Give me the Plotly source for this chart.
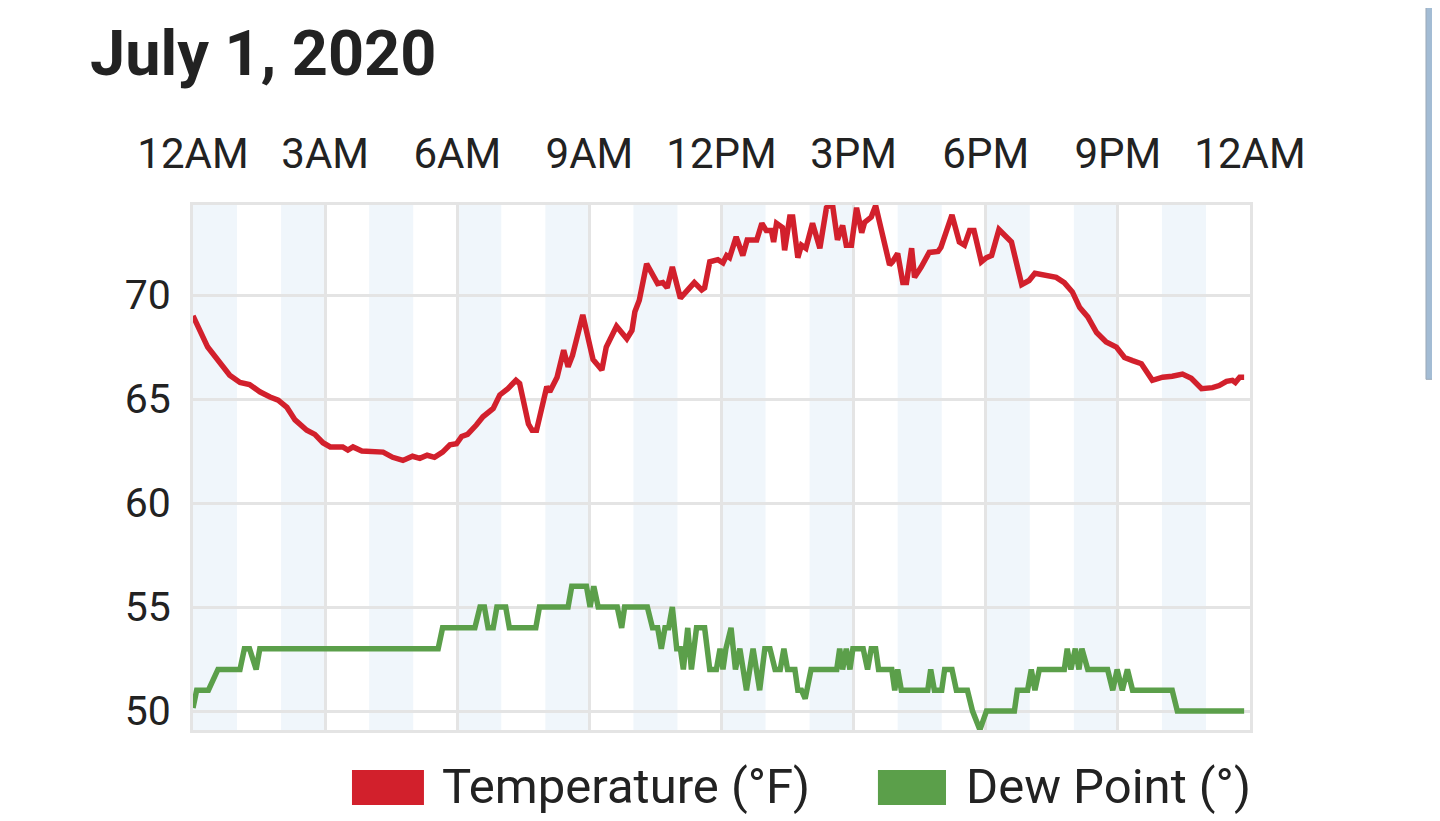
import plotly.graph_objects as go

DAY = "2020-07-01"
NEXT_DAY = "2020-07-02"

# Temperature readings (°F)
temp_times = [
    "00:00", "00:20", "00:50", "01:04", "01:17", "01:31", "01:45", "01:56", "02:08", "02:19",
    "02:35", "02:46", "02:57", "03:07", "03:24", "03:31", "03:38", "03:50", "04:19", "04:32",
    "04:46", "04:59", "05:09", "05:19", "05:29", "05:40", "05:50", "05:59", "06:06", "06:14",
    "06:26", "06:35", "06:49", "06:58", "07:09", "07:20", "07:25", "07:37", "07:42", "07:48",
    "08:02", "08:06", "08:16", "08:25", "08:31", "08:37", "08:51", "09:05", "09:17", "09:23",
    "09:37", "09:51", "09:58", "10:02", "10:08", "10:18", "10:33", "10:40", "10:46", "10:53",
    "11:04", "11:13", "11:23", "11:33", "11:37", "11:44", "11:55", "12:02", "12:07", "12:11",
    "12:20", "12:29", "12:35", "12:48", "12:55", "13:01", "13:08", "13:11", "13:15", "13:23",
    "13:26", "13:33", "13:37", "13:44", "13:49", "13:55", "14:04", "14:14", "14:23", "14:31",
    "14:38", "14:45", "14:50", "14:57", "15:04", "15:11", "15:15", "15:24", "15:30", "15:38",
    "15:49", "15:53", "16:00", "16:07", "16:12", "16:19", "16:23", "16:32", "16:43", "16:55",
    "16:59", "17:14", "17:24", "17:31", "17:38", "17:44", "17:54", "18:01", "18:08", "18:18",
    "18:35", "18:49", "18:59", "19:07", "19:23", "19:36", "19:47", "19:58", "20:08", "20:19",
    "20:31", "20:44", "20:58", "21:09", "21:20", "21:32", "21:47", "22:01", "22:14", "22:28",
    "22:40", "22:54", "23:09", "23:18", "23:28", "23:36", "23:40", "23:46", "23:52",
]
temp_values = [
    69.0, 67.5, 66.15, 65.8, 65.7, 65.35, 65.1, 64.95, 64.6, 64.0,
    63.5, 63.3, 62.9, 62.7, 62.7, 62.55, 62.7, 62.5, 62.45, 62.2,
    62.05, 62.25, 62.15, 62.3, 62.2, 62.45, 62.8, 62.85, 63.2, 63.3,
    63.75, 64.15, 64.55, 65.2, 65.5, 65.9, 65.75, 63.8, 63.5, 63.5,
    65.6, 65.35, 66.05, 67.35, 66.55, 67.1, 69.05, 66.9, 66.4, 67.5,
    68.5, 67.9, 68.3, 69.2, 69.75, 71.5, 70.55, 70.6, 70.35, 71.35,
    69.85, 70.25, 70.6, 70.25, 70.35, 71.6, 71.7, 71.55, 71.9, 71.8,
    72.8, 71.9, 72.65, 72.65, 73.45, 73.1, 73.1, 72.55, 73.45, 73.25,
    72.15, 73.75, 73.75, 71.8, 72.4, 72.25, 73.45, 72.25, 74.2, 74.4,
    72.65, 73.35, 72.4, 72.4, 74.2, 73.0, 73.5, 73.75, 74.3, 73.1,
    71.45, 71.6, 72.0, 70.6, 70.6, 72.25, 70.85, 71.35, 72.05, 72.1,
    72.3, 73.85, 72.55, 72.4, 73.1, 73.1, 71.6, 71.8, 71.9, 73.15,
    72.55, 70.5, 70.7, 71.05, 70.95, 70.85, 70.6, 70.15, 69.4, 68.95,
    68.2, 67.75, 67.5, 67.0, 66.85, 66.7, 65.9, 66.05, 66.1, 66.2,
    66.0, 65.5, 65.55, 65.65, 65.85, 65.9, 65.8, 66.05, 66.05,
]

# Dew point readings (°)
dew_times = [
    "00:00", "00:05", "00:21", "00:34", "01:04", "01:10", "01:17", "01:26", "01:31", "05:34",
    "05:40", "06:24", "06:31", "06:37", "06:42", "06:49", "06:54", "07:06", "07:11", "07:47",
    "07:52", "08:31", "08:36", "08:56", "09:01", "09:06", "09:12", "09:38", "09:44", "09:48",
    "10:19", "10:26", "10:33", "10:38", "10:43", "10:48", "10:53", "10:59", "11:04", "11:08",
    "11:14", "11:19", "11:26", "11:37", "11:44", "11:53", "11:58", "12:02", "12:06", "12:13",
    "12:19", "12:25", "12:34", "12:43", "12:52", "12:59", "13:06", "13:13", "13:20", "13:25",
    "13:30", "13:40", "13:44", "13:49", "13:54", "14:02", "14:37", "14:41", "14:45", "14:50",
    "14:55", "14:59", "15:13", "15:19", "15:24", "15:30", "15:34", "15:52", "15:56", "16:00",
    "16:05", "16:41", "16:45", "16:50", "17:00", "17:04", "17:14", "17:20", "17:35", "17:42",
    "17:52", "18:01", "18:39", "18:43", "18:57", "19:02", "19:07", "19:13", "19:47", "19:51",
    "19:56", "20:02", "20:07", "20:11", "20:19", "20:46", "20:53", "20:59", "21:06", "21:13",
    "21:20", "22:14", "22:21", "23:52",
]
dew_values = [
    50.15, 51, 51, 52, 52, 53, 53, 52, 53, 53,
    54, 54, 55, 55, 54, 54, 55, 55, 54, 54,
    55, 55, 56, 56, 55, 56, 55, 55, 54, 55,
    55, 54, 54, 53, 54, 54, 55, 53, 53, 52,
    54, 52, 54, 54, 52, 52, 53, 52, 53, 54,
    52, 53, 51, 53, 51, 53, 53, 52, 52, 53,
    52, 52, 51, 51, 50.6, 52, 52, 53, 52, 53,
    52, 53, 53, 52, 53, 53, 52, 52, 51, 52,
    51, 51, 52, 51, 51, 52, 52, 51, 51, 50,
    49.1, 50, 50, 51, 51, 52, 51, 52, 52, 53,
    52, 53, 52, 53, 52, 52, 51, 52, 51, 52,
    51, 51, 50, 50,
]

series_names = ["Temperature (°F)", "Dew Point (°)"]
series_colors = ["#d2202c", "#5b9f4a"]

hour_ticks = ["00:00", "03:00", "06:00", "09:00", "12:00", "15:00", "18:00", "21:00", "24:00"]
hour_labels = ["12AM", "3AM", "6AM", "9AM", "12PM", "3PM", "6PM", "9PM", "12AM"]
y_ticks = [50, 55, 60, 65, 70]


def stamp(hhmm):
    if hhmm == "24:00":
        return NEXT_DAY + " 00:00"
    return DAY + " " + hhmm


fig = go.Figure()
fig.add_trace(go.Scatter(x=[stamp(t) for t in temp_times], y=temp_values, mode="lines",
                         name=series_names[0], line=dict(color=series_colors[0], width=5.5)))
fig.add_trace(go.Scatter(x=[stamp(t) for t in dew_times], y=dew_values, mode="lines",
                         name=series_names[1], line=dict(color=series_colors[1], width=5.5)))

# light blue band on every other hour
shapes = []
for h in range(0, 24, 2):
    shapes.append(dict(type="rect", xref="x", yref="paper",
                       x0=stamp("%02d:00" % h), x1=stamp("%02d:00" % (h + 1)),
                       y0=0, y1=1, fillcolor="#f0f6fb", line_width=0, layer="below"))

# legend drawn by hand: filled blocks + labels
legend_x = [(0.1504, 0.2185, 0.2336), (0.648, 0.7124, 0.7294)]
annotations = []
for (x0, x1, tx), name, color in zip(legend_x, series_names, series_colors):
    shapes.append(dict(type="rect", xref="paper", yref="paper", x0=x0, x1=x1,
                       y0=-0.1429, y1=-0.0762, fillcolor=color, line_width=0))
    annotations.append(dict(text=name, xref="paper", yref="paper", x=tx, y=-0.108,
                            xanchor="left", yanchor="middle", showarrow=False,
                            font=dict(family="Roboto", size=49, color="#222222")))

# scrollbar on the right edge of the screenshot
shapes.append(dict(type="rect", xref="paper", yref="paper", x0=1.1665, x1=1.185,
                   y0=0.668, y1=1.5, fillcolor="#a3bcd4",
                   line=dict(color="#9aa9b8", width=1)))

# page body adds 8px around the figure, so the figure is 16px smaller
fig.update_layout(
    width=1432, height=813,
    margin=dict(l=185, r=190, t=197, b=91),
    paper_bgcolor="white", plot_bgcolor="white",
    showlegend=False,
    title=dict(text="<b>July 1, 2020</b>", x=82 / 1432, xanchor="left", xref="container",
               y=1 - 45 / 813, yanchor="middle", yref="container",
               font=dict(family="Roboto", size=63, color="#222222")),
    shapes=shapes, annotations=annotations,
    font=dict(family="Roboto", color="#222222"),
)
fig.update_xaxes(
    type="date", side="top", range=[stamp("00:00"), stamp("24:00")],
    tickvals=[stamp(t) for t in hour_ticks], ticktext=hour_labels,
    tickfont=dict(family="Roboto", size=42, color="#222222"),
    showgrid=True, gridcolor="#e4e4e4", gridwidth=3,
    showline=True, mirror=True, linecolor="#e4e4e4", linewidth=3,
    ticks="", ticklabelstandoff=17, zeroline=False,
)
fig.update_yaxes(
    range=[49.09, 74.33], tickvals=y_ticks,
    tickfont=dict(family="Roboto", size=41, color="#222222"),
    showgrid=True, gridcolor="#e4e4e4", gridwidth=3,
    showline=True, mirror=True, linecolor="#e4e4e4", linewidth=3,
    ticks="", ticklabelstandoff=11, zeroline=False,
)

fig.write_html("out.html")
